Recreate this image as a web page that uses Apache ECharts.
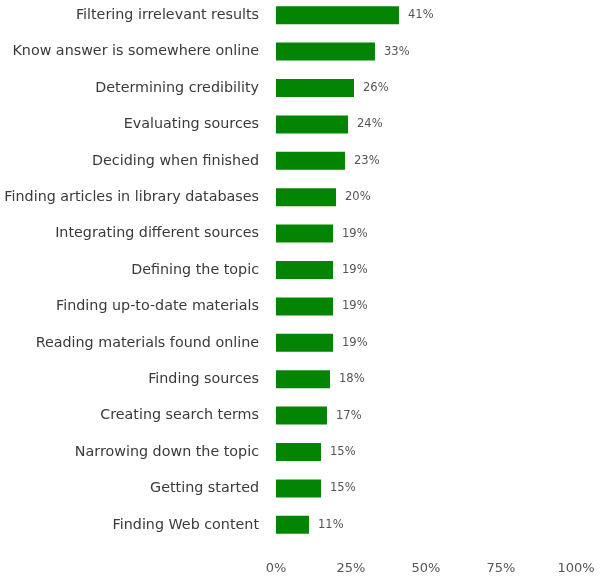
<!DOCTYPE html>
<html><head><meta charset="utf-8">
<script src="https://cdn.jsdelivr.net/npm/echarts@6/dist/echarts.min.js"></script>
<style>html,body{margin:0;padding:0;background:#fff}#c{width:600px;height:581px}</style>
</head><body><div id="c"></div>
<script>
const categories = [
  "Filtering irrelevant results",
  "Know answer is somewhere online",
  "Determining credibility",
  "Evaluating sources",
  "Deciding when finished",
  "Finding articles in library databases",
  "Integrating different sources",
  "Defining the topic",
  "Finding up-to-date materials",
  "Reading materials found online",
  "Finding sources",
  "Creating search terms",
  "Narrowing down the topic",
  "Getting started",
  "Finding Web content"
];
const values = [41, 33, 26, 24, 23, 20, 19, 19, 19, 19, 18, 17, 15, 15, 11];
const xTicks = [0, 25, 50, 75, 100];

const FONT = 'DejaVu Sans, Verdana, sans-serif';
const chart = echarts.init(document.getElementById('c'));
chart.setOption({
  animation: false,
  grid: { left: 276, width: 300, top: -3, height: 546, containLabel: false, outerBoundsMode: 'none' },
  xAxis: {
    type: 'value', min: 0, max: 100, interval: 25,
    axisLine: { show: false }, axisTick: { show: false }, splitLine: { show: false },
    axisLabel: { margin: 19, color: '#555', fontSize: 13, fontFamily: FONT,
      formatter: v => xTicks.includes(v) ? v + '%' : '' }
  },
  yAxis: {
    type: 'category', data: categories, inverse: true,
    axisLine: { show: false }, axisTick: { show: false },
    axisLabel: { margin: 17, color: '#3a3a3a', fontSize: 14.3, fontFamily: FONT }
  },
  series: [{
    type: 'bar', data: values, barWidth: 18,
    itemStyle: { color: '#038503' },
    label: { show: true, position: 'right', distance: 9, color: '#555', fontSize: 11.5,
      fontFamily: FONT, formatter: p => p.value + '%' }
  }]
});
</script></body></html>
